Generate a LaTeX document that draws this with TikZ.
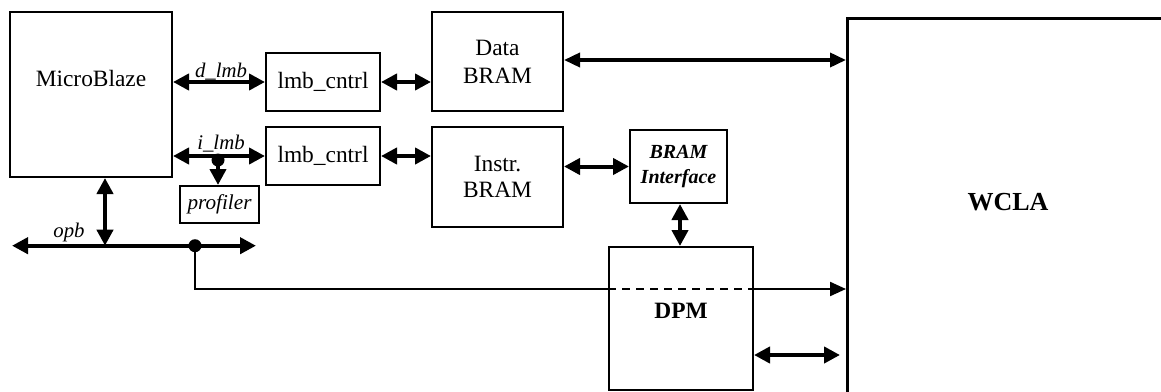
\documentclass[tikz,border=0pt]{standalone}
\usepackage{fontspec}
\setmainfont{Liberation Serif}
\usetikzlibrary{arrows.meta}
\begin{document}
\begin{tikzpicture}[x=0.5pt,y=-0.5pt,
  box/.style={draw,line width=1pt,inner sep=0pt,align=center,font=\fontsize{11.7}{14}\selectfont},
  txt/.style={inner sep=0pt,align=center,font=\fontsize{11.7}{14}\selectfont},
  lbl/.style={inner sep=0pt,font=\fontsize{10.4}{12}\selectfont\itshape},
  tipb/.tip={Triangle[length=8pt,width=8pt]},
  tipm/.tip={Triangle[length=8pt,width=7pt]},
  bus/.style={line width=2pt,tipb-tipb},
  busone/.style={line width=2pt,-tipb},
  mid/.style={line width=1.8pt,tipm-tipm},
  thin1/.style={line width=1.1pt},
  dot/.style={fill,circle,inner sep=0pt,minimum size=6.5pt}]
\useasboundingbox (0,0) rectangle (1161,391);
\begin{scope}
\clip (0,0) rectangle (1161,391);
% WCLA (open to the right and bottom)
\node[draw,line width=1.7pt,inner sep=0pt,minimum width=200pt,minimum height=210pt,anchor=north west] (wcla) at (846,17) {};
\end{scope}
\node[txt,font=\fontsize{13}{15}\selectfont\bfseries] (wclat) at (1008,202) {WCLA};

% boxes
\node[box,minimum width=81pt,minimum height=82.5pt] (mb) at (91,94.5) {};
\node[txt] (mbt) at (91,78) {MicroBlaze};
\node[box,minimum width=57pt,minimum height=29pt] (lmb1) at (323,82) {lmb\_cntrl};
\node[box,minimum width=57pt,minimum height=29pt] (lmb2) at (323,156) {lmb\_cntrl};
\node[box,minimum width=65.5pt,minimum height=49.5pt,font=\fontsize{11.7}{14}\selectfont] (dbram) at (497.5,61.5) {Data\\BRAM};
\node[box,minimum width=65.5pt,minimum height=50pt,font=\fontsize{11.7}{12.8}\selectfont] (ibram) at (497.5,177) {Instr.\\BRAM};
\node[box,minimum width=48.5pt,minimum height=36.5pt,font=\fontsize{10}{12.5}\selectfont\bfseries\itshape] (bif) at (678.5,166.5) {BRAM\\Interface};
\node[box,minimum width=72pt,minimum height=71.5pt] (dpm) at (681,318.5) {};
\node[txt,font=\fontsize{11.7}{14}\selectfont\bfseries] (dpmt) at (681,311) {DPM};
\node[box,minimum width=39.5pt,minimum height=18.5pt,font=\fontsize{10.6}{12}\selectfont\itshape] (prof) at (219.5,204.5) {profiler};

% lmb buses
\draw[bus] (mb.east |- lmb1.west) -- (lmb1.west);
\node[lbl] (dl) at (221,72) {d\_lmb};
\draw[bus] (mb.east |- lmb2.west) -- (lmb2.west);
\node[lbl] (il) at (221,144) {i\_lmb};
\node[dot] (idot) at (218,160) {};
\draw[busone] (idot.center) -- (idot.center |- prof.north);

\draw[bus] (lmb1.east) -- (lmb1.east -| dbram.west);
\draw[bus] (lmb2.east) -- (lmb2.east -| ibram.west);
\draw[bus] (ibram.east |- bif.west) -- (bif.west);
\draw[bus] (bif.south -| 680,0) -- (dpm.north -| 680,0);

% data BRAM to WCLA
\draw[mid] (dbram.east |- 0,60) -- (wcla.west |- 0,60);

% opb bus
\coordinate (opbl) at (12,245.7);
\coordinate (opbr) at (256,245.7);
\draw[bus] (opbl) -- (opbr);
\node[lbl] (opbt) at (69,232) {opb};
\coordinate (opbm) at (105,245.7);
\draw[bus] (opbm |- mb.south) -- (opbm);
\node[dot] (odot) at (195,245.7) {};
\coordinate (tap) at (195,289);
\draw[thin1] (odot.center) -- (tap) -- (tap -| dpm.west);
\draw[thin1,dashed,dash pattern=on 4pt off 3pt] (tap -| dpm.west) -- (tap -| dpm.east);
\draw[thin1,-{Triangle[length=8pt,width=7pt]}] (tap -| dpm.east) -- (tap -| wcla.west);

% DPM to WCLA
\draw[bus,shorten >=3pt] (dpm.east |- 0,355) -- (wcla.west |- 0,355);
\end{tikzpicture}
\end{document}
